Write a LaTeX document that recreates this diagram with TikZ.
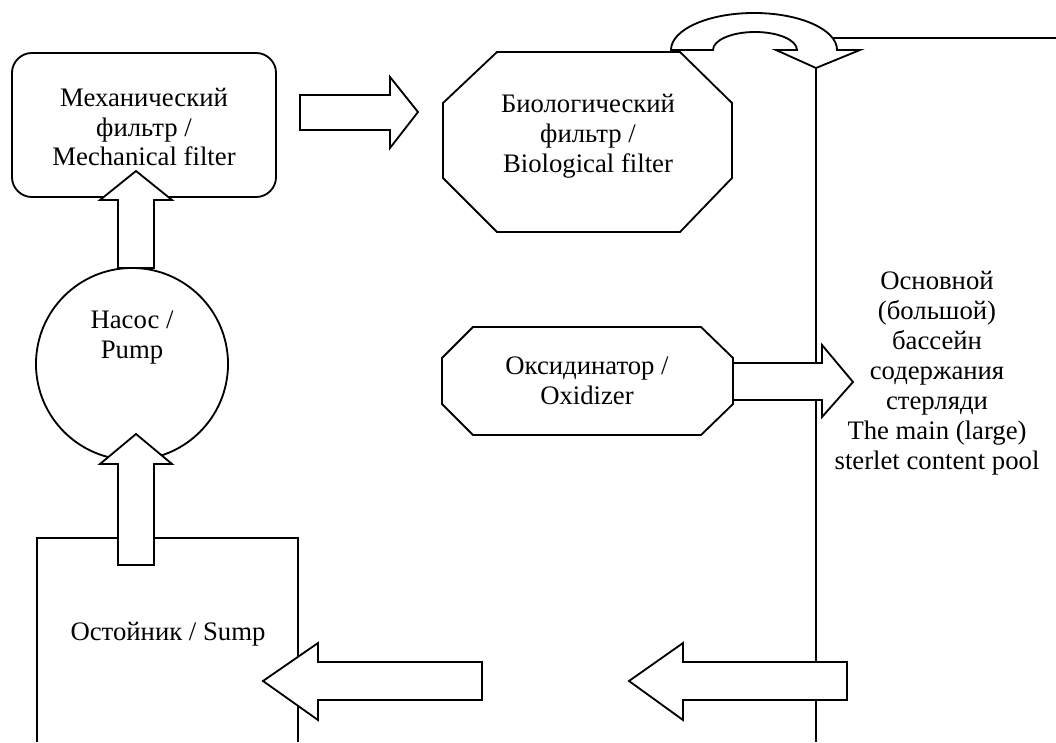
\documentclass[tikz,border=0pt]{standalone}
\usepackage{fontspec}
\setmainfont{Liberation Serif}
\begin{document}
\begin{tikzpicture}[x=0.025cm, y=-0.025cm, line width=1.3pt,
	txt/.style = {align=center, inner sep=0pt, font=\fontsize{19}{21.3}\selectfont},
	blockarrow/.style = {draw, fill=white, line join=miter}]
	\useasboundingbox (0,0) rectangle (1056,742);
	
	\coordinate (tip) at (816,68);
	\coordinate (poolbot) at (816,742);
	\coordinate (pooltop) at (833,38);
	\coordinate (poolend) at (1056,38);
	\draw (tip) -- (poolbot);
	\draw (pooltop) -- (poolend);
	
	\draw (37,742) -- (37,538) -- (298,538) -- (298,742);
	\node[txt] (sump) at (168,634) {Остойник / Sump};
	
	\node[draw, circle, minimum size=4.8cm, inner sep=0pt] (pump) at (132,364) {};
	\node[txt] (pumptext) at (132,338) {Насос /\\Pump};
	
	\node[draw, rounded corners=0.5cm, minimum width=6.6cm, minimum height=3.6cm] (mechbox) at (144,125) {};
	\node[txt] (mech) at (144,127) {Механический\\фильтр /\\Mechanical filter};
	
	\draw (497,52) -- (680,52) -- (732,103) -- (732,178) -- (680,232) -- (497,232) -- (443,178) -- (443,103) -- cycle;
	\node[txt] (bio) at (588,136) {Биологический\\фильтр /\\Biological filter};
	
	\draw (473,327) -- (701,327) -- (733,358) -- (733,404) -- (701,435) -- (473,435) -- (442,404) -- (442,358) -- cycle;
	\node[txt] (oxi) at (587,381) {Оксидинатор /\\Oxidizer};
	
	\node[txt] (pool) at (937,373) {Основной\\(большой)\\бассейн\\содержания\\стерляди\\The main (large)\\sterlet content pool};
	
	\draw[blockarrow] (300,95) -- (390,95) -- (390,77) -- (418,112) -- (390,148) -- (390,130) -- (300,130) -- cycle;
	\draw[blockarrow] (118,268) -- (118,200) -- (100,200) -- (136,171) -- (172,200) -- (154,200) -- (154,268) -- cycle;
	\draw[blockarrow] (118,565) -- (118,464) -- (100,464) -- (136,434) -- (172,464) -- (154,464) -- (154,565) -- cycle;
	\draw[blockarrow] (733,363) -- (822,363) -- (822,345) -- (853,382) -- (822,417) -- (822,400) -- (733,400) -- cycle;
	\draw[blockarrow] (482,662) -- (318,662) -- (318,643) -- (263,681) -- (318,720) -- (318,700) -- (482,700) -- cycle;
	\draw[blockarrow] (847,662) -- (683,662) -- (683,643) -- (629,681) -- (683,720) -- (683,700) -- (847,700) -- cycle;
	\draw[blockarrow] (671,50) arc[start angle=180, end angle=0, x radius=2.075cm, y radius=0.925cm] -- (860,50) -- (tip) -- (776,50) -- (797,50) arc[start angle=0, end angle=180, x radius=1.05cm, y radius=0.45cm] -- cycle;
\end{tikzpicture}
\end{document}
